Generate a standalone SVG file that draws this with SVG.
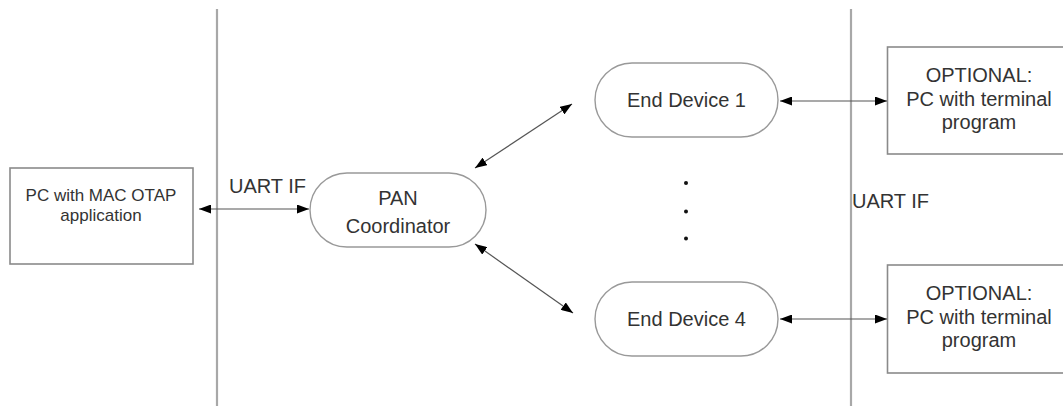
<svg xmlns="http://www.w3.org/2000/svg" width="1063" height="406" viewBox="0 0 1063 406">
  <style>
    .bg { fill: #ffffff; }
    .divider { stroke: #a8a8a8; stroke-width: 2.2; fill: none; }
    .box { fill: #ffffff; stroke: #8a8a8a; stroke-width: 1.6; }
    .pill { fill: #ffffff; stroke: #999999; stroke-width: 1.4; }
    .link { stroke: #555555; stroke-width: 1.2; fill: none; marker-start: url(#head); marker-end: url(#head); }
    .lbl { font-family: "Liberation Sans", Arial, sans-serif; fill: #333333; font-size: 20px; }
    .small { font-size: 17px; }
    .mid { text-anchor: middle; }
    .dot { fill: #111111; }
  </style>
  <defs>
    <marker id="head" viewBox="0 0 12 9" refX="12" refY="4.5" markerWidth="12" markerHeight="9" markerUnits="userSpaceOnUse" orient="auto-start-reverse">
      <path d="M0,0 L12,4.5 L0,9 z" fill="#000000"/>
    </marker>
  </defs>

  <rect class="bg" x="0" y="0" width="1063" height="406"/>

  <!-- interface boundaries -->
  <g id="dividers">
    <line class="divider" x1="217" y1="9" x2="217" y2="406"/>
    <line class="divider" x1="851" y1="9" x2="851" y2="406"/>
  </g>

  <g id="pc-otap">
    <rect class="box" x="10" y="168" width="183" height="96"/>
    <text class="lbl small mid" x="101" y="201">PC with MAC OTAP</text>
    <text class="lbl small mid" x="101" y="221">application</text>
  </g>

  <g id="pan-coordinator">
    <rect class="pill" x="310" y="173" width="176" height="74" rx="37" ry="37"/>
    <text class="lbl mid" x="398" y="205">PAN</text>
    <text class="lbl mid" x="398" y="233">Coordinator</text>
  </g>

  <g id="end-device-1">
    <rect class="pill" x="595" y="63" width="183" height="74" rx="37" ry="37"/>
    <text class="lbl mid" x="686.5" y="107">End Device 1</text>
  </g>

  <g id="end-device-4">
    <rect class="pill" x="595" y="282" width="183" height="74" rx="37" ry="37"/>
    <text class="lbl mid" x="686.5" y="326">End Device 4</text>
  </g>

  <g id="terminal-1">
    <rect class="box" x="887.5" y="47" width="200" height="107"/>
    <text class="lbl mid" x="979" y="82">OPTIONAL:</text>
    <text class="lbl mid" x="979" y="106">PC with terminal</text>
    <text class="lbl mid" x="979" y="129">program</text>
  </g>

  <g id="terminal-4">
    <rect class="box" x="887.5" y="265" width="200" height="108"/>
    <text class="lbl mid" x="979" y="300">OPTIONAL:</text>
    <text class="lbl mid" x="979" y="324">PC with terminal</text>
    <text class="lbl mid" x="979" y="347">program</text>
  </g>

  <!-- further end devices, elided -->
  <g id="ellipsis">
    <circle class="dot" cx="686" cy="183" r="2"/>
    <circle class="dot" cx="686" cy="211.5" r="2"/>
    <circle class="dot" cx="686" cy="238.5" r="2"/>
  </g>

  <g id="uart-labels">
    <text class="lbl" x="229" y="193">UART IF</text>
    <text class="lbl" x="852" y="208">UART IF</text>
  </g>

  <g id="connectors">
    <line class="link" x1="199" y1="209" x2="309" y2="209"/>
    <line class="link" x1="475" y1="168" x2="572" y2="104"/>
    <line class="link" x1="475" y1="244" x2="573" y2="313"/>
    <line class="link" x1="780" y1="101" x2="887" y2="101"/>
    <line class="link" x1="780" y1="319" x2="887" y2="319"/>
  </g>
</svg>
